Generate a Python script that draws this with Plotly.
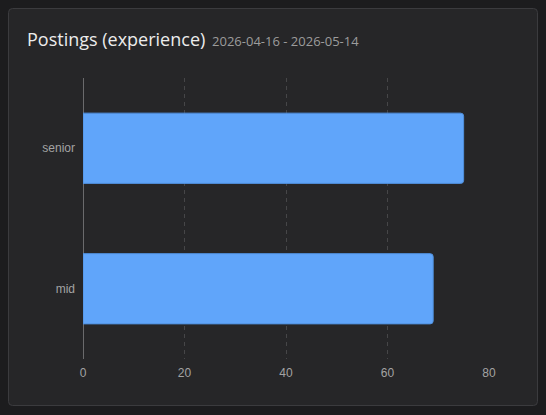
import plotly.graph_objects as go

# datos
categories = ["mid", "senior"]
postings = [69, 75]
x_ticks = [0, 20, 40, 60, 80]
title = "Postings (experience)"
subtitle = "2026-04-16 - 2026-05-14"

W, H = 546, 415
L, R, T, B = 83, 57, 78, 56
pw, ph = W - L - R, H - T - B


def px(x):
    return (x - L) / pw


def py(y):
    return 1 - (y - T) / ph


def card_path(x0, y0, x1, y1, r):
    # rectángulo redondeado en coordenadas de papel
    rx, ry = r / pw, r / ph
    a, b, c, d = px(x0), py(y1), px(x1), py(y0)
    return (f"M{a+rx},{b} L{c-rx},{b} Q{c},{b} {c},{b+ry} L{c},{d-ry} Q{c},{d} {c-rx},{d} "
            f"L{a+rx},{d} Q{a},{d} {a},{d-ry} L{a},{b+ry} Q{a},{b} {a+rx},{b} Z")


fig = go.Figure()
fig.add_trace(go.Bar(
    x=postings,
    y=categories,
    orientation="h",
    width=0.5,
    marker=dict(color="#60a5fa", line=dict(color="#4f8fdc", width=1)),
    hoverinfo="x+y",
))

fig.add_shape(type="path", xref="paper", yref="paper", layer="below",
              path=card_path(8.5, 8.5, 537.5, 405.5, 4),
              fillcolor="#262628", line=dict(color="#3b3b3e", width=1))

fig.add_annotation(xref="paper", yref="paper", x=px(25), y=py(39), xanchor="left", yanchor="middle",
                   showarrow=False,
                   text=f"<span style='font-size:18px;color:#ececec;font-weight:500'>{title}</span>"
                        f"<span style='font-size:13px;color:#9c9c9c'>  {subtitle}</span>",
                   font=dict(family="Open Sans, Noto Sans, sans-serif"))

fig.update_layout(
    width=W, height=H,
    margin=dict(l=L, r=R, t=T, b=B),
    paper_bgcolor="#1c1c1e",
    plot_bgcolor="rgba(0,0,0,0)",
    showlegend=False,
    barcornerradius=3,
    font=dict(family="Liberation Sans, Arial, sans-serif", size=12, color="#a3a3a3"),
    xaxis=dict(range=[0, 80], tickvals=x_ticks, showgrid=True, gridcolor="#464648", griddash="4px,4px",
               gridwidth=1, zeroline=True, zerolinecolor="#6a6a6c", zerolinewidth=1,
               showline=False, ticks="", ticklabelstandoff=5, fixedrange=True),
    yaxis=dict(showgrid=False, zeroline=False, showline=False, ticks="", ticklabelstandoff=7,
               range=[-0.5, 1.5], fixedrange=True),
)

fig.write_html("out.html", config={"displayModeBar": False},
               post_script="document.body.style.margin='0';document.body.style.background='#1c1c1e';")
